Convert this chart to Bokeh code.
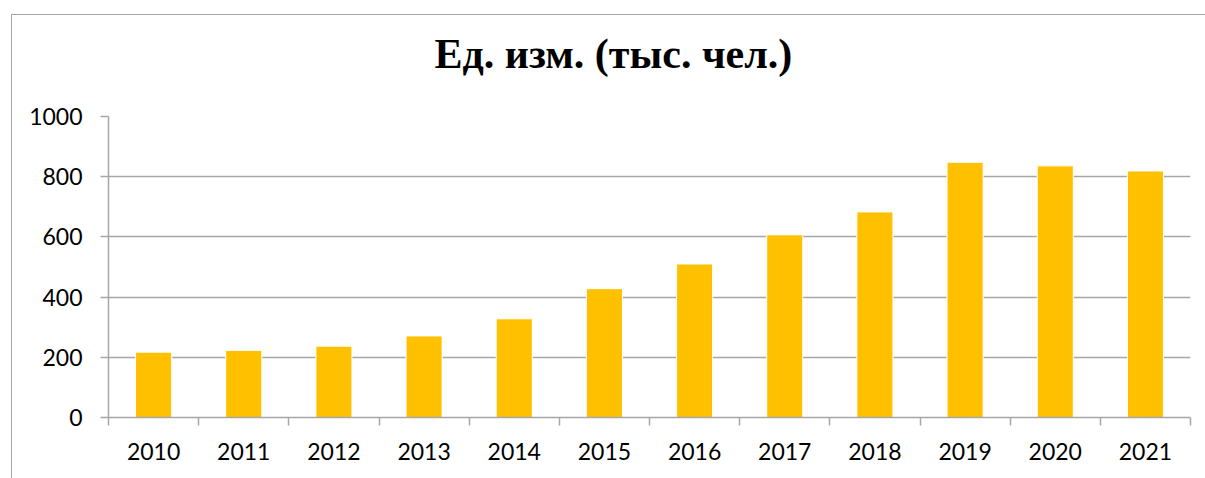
from bokeh.plotting import figure
from bokeh.models import ColumnDataSource, FixedTicker, Range1d, Title
from bokeh.embed import file_html
from bokeh.resources import INLINE

years = ["2010", "2011", "2012", "2013", "2014", "2015",
         "2016", "2017", "2018", "2019", "2020", "2021"]
values = [217, 223, 237, 271, 328, 428, 510, 607, 683, 848, 836, 819]
y_ticks = [0, 200, 400, 600, 800, 1000]
title_text = "Ед. изм. (тыс. чел.)"

BAR = "#FFC000"
GREY = "#A6A6A6"
FONT = "Lato"

centers = [i + 0.5 for i in range(len(years))]
src = ColumnDataSource(dict(x=centers, top=values, year=years))

p = figure(width=1194, height=464, output_backend="svg", toolbar_location=None,
           title=None,
           x_range=Range1d(0, len(years)), y_range=Range1d(0, 1000),
           min_border_left=96, min_border_right=16, min_border_top=101,
           min_border_bottom=62)
p.margin = (14, 0, 0, 11)
p.styles = {"border-top": "1px solid #A6A6A6", "border-left": "1px solid #A6A6A6"}
p.outline_line_color = None
p.background_fill_color = "white"
p.border_fill_color = "white"

p.vbar(x="x", top="top", width=0.4, source=src, fill_color=BAR,
       line_color="white", line_width=1)

# x axis
xa = p.xaxis[0]
xa.ticker = FixedTicker(ticks=centers, minor_ticks=list(range(len(years) + 1)))
xa.major_label_overrides = {c: y for c, y in zip(centers, years)}
xa.major_tick_out = 0
xa.major_tick_in = 0
xa.minor_tick_out = 8
xa.minor_tick_in = 0
xa.minor_tick_line_color = GREY
xa.minor_tick_line_width = 1.5
xa.axis_line_color = GREY
xa.axis_line_width = 1.5
xa.major_label_text_font = FONT
xa.major_label_text_font_size = "23px"
xa.major_label_text_color = "black"
xa.major_label_standoff = 17

# y axis
ya = p.yaxis[0]
ya.ticker = FixedTicker(ticks=y_ticks)
ya.major_tick_out = 8
ya.major_tick_in = 0
ya.minor_tick_out = 0
ya.minor_tick_in = 0
ya.major_tick_line_color = GREY
ya.major_tick_line_width = 1.5
ya.axis_line_color = GREY
ya.axis_line_width = 1.5
ya.major_label_text_font = FONT
ya.major_label_text_font_size = "23px"
ya.major_label_text_color = "black"
ya.major_label_standoff = 18

p.xgrid.visible = False
p.ygrid.ticker = FixedTicker(ticks=y_ticks)
p.ygrid.grid_line_color = GREY
p.ygrid.grid_line_width = 1.5

# empty spacer between the frame and the title
spacer = Title(text=" ", text_font_size="10px", standoff=24)
p.add_layout(spacer, "above")

title = Title(text=title_text, align="left", offset=326,
              text_font="Liberation Serif", text_font_style="bold",
              text_font_size="42px", text_color="black", standoff=6)
p.add_layout(title, "above")

open("out.html", "w").write(file_html(p, INLINE))
